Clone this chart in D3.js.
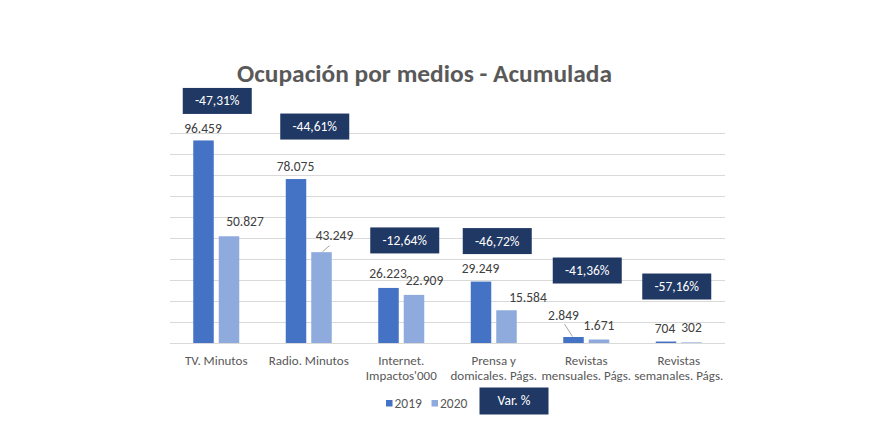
<!DOCTYPE html>
<html>
<head>
<meta charset="utf-8">
<script src="https://cdn.jsdelivr.net/npm/d3@7"></script>
<style>
  html, body { margin: 0; padding: 0; background: #fff; }
  svg { display: block; }
</style>
</head>
<body>
<svg id="chart" width="872" height="444"></svg>
<script>
// ---------- DATA ----------
const categories = [
  ["TV. Minutos"],
  ["Radio. Minutos"],
  ["Internet.", "Impactos'000"],
  ["Prensa y", "domicales. Págs."],
  ["Revistas", "mensuales. Págs."],
  ["Revistas", "semanales. Págs."]
];
const seriesNames = ["2019", "2020"];
const values2019 = [96459, 78075, 26223, 29249, 2849, 704];
const values2020 = [50827, 43249, 22909, 15584, 1671, 302];
const variation = [-47.31, -44.61, -12.64, -46.72, -41.36, -57.16];
const yTicks = [0, 10000, 20000, 30000, 40000, 50000, 60000, 70000, 80000, 90000, 100000];
const titleText = "Ocupación por medios - Acumulada";
const varLegend = "Var. %";

// ---------- LAYOUT (manual label nudges, px) ----------
const labelNudge2019 = [[-0.5, -3], [-0.5, -4.5], [-0.5, -6], [-0.5, -5], [-10, -13], [-1, -5]];
const labelNudge2020 = [[16, -6], [13, -8.5], [10.5, -5.5], [21.5, -4.5], [0, -5], [0, -6]];
const leader2019 = [null, null, null, null, [-9, -13], null];
const leader2020 = [null, [8, -6.5], null, null, null, null];
const boxOffset = [[1, -39.5], [6, -52.5], [3.5, -47.5], [3.5, -40.5], [1, -66.5], [-2, -55]];

const colors = { "2019": "#4472C4", "2020": "#8FAADC" };
const navy = "#203864";
const font = "Carlito, Calibri, Lato, 'Liberation Sans', sans-serif";
const fs = 13.5;
const fsCat = 13;

const svg = d3.select("#chart");
svg.append("rect").attr("width", 872).attr("height", 444).attr("fill", "#fff");

const locale = d3.formatLocale({ decimal: ",", thousands: ".", grouping: [3], currency: ["", "€"], minus: "-" });
const fmtInt = locale.format(",d");
const fmtPct = locale.format(".2f");

const catKeys = categories.map(c => c.join(" "));
const x = d3.scaleBand().domain(catKeys).range([170, 725]).paddingInner(0).paddingOuter(0);
const xSub = d3.scaleBand().domain(seriesNames).range([0, x.bandwidth()])
  .paddingInner(0.196).paddingOuter(0.912);
const y = d3.scaleLinear().domain([0, 100000]).range([343, 133]);

// gridlines via axis
const gridAxis = d3.axisLeft(y).tickValues(yTicks).tickSize(-(725 - 170)).tickFormat("");
const g = svg.append("g").attr("transform", "translate(170,0)").call(gridAxis);
g.select(".domain").remove();
g.selectAll(".tick line").attr("stroke", "#D9D9D9").attr("stroke-width", 1);

// title
svg.append("text")
  .attr("x", 424.5).attr("y", 81.5)
  .attr("text-anchor", "middle")
  .attr("font-family", font).attr("font-weight", "bold")
  .attr("font-size", 24.5).attr("fill", "#595959")
  .attr("textLength", 375).attr("lengthAdjust", "spacingAndGlyphs")
  .text(titleText);

const rows = catKeys.map((k, i) => ({ k, i, v: [values2019[i], values2020[i]] }));

// bars
seriesNames.forEach((s, si) => {
  svg.append("g").selectAll("rect").data(rows).join("rect")
    .attr("x", d => x(d.k) + xSub(s))
    .attr("y", d => y(d.v[si]))
    .attr("width", xSub.bandwidth())
    .attr("height", d => y(0) - y(d.v[si]))
    .attr("fill", colors[s]);
});

// data labels
const nudges = [labelNudge2019, labelNudge2020];
const leaders = [leader2019, leader2020];
seriesNames.forEach((s, si) => {
  const lg = svg.append("g");
  rows.forEach(d => {
    const bx = x(d.k) + xSub(s) + xSub.bandwidth() / 2;
    const by = y(d.v[si]);
    const [dx, dy] = nudges[si][d.i];
    const tx = bx + dx, ty = by + dy - 4;
    const ld = leaders[si][d.i];
    if (ld) {
      lg.append("line")
        .attr("x1", bx + (si === 1 ? 1 : -1)).attr("y1", by - 0.5)
        .attr("x2", bx + ld[0]).attr("y2", by + ld[1])
        .attr("stroke", "#A6A6A6").attr("stroke-width", 1);
    }
    lg.append("text")
      .attr("x", tx).attr("y", ty)
      .attr("text-anchor", "middle")
      .attr("font-family", font).attr("font-size", fs)
      .attr("fill", "#404040")
      .text(fmtInt(d.v[si]));
  });
});

// variation boxes
const bw = 69, bh = 26;
const boxes = svg.append("g");
rows.forEach(d => {
  const cx = x(d.k) + x.bandwidth() / 2 + boxOffset[d.i][0];
  const cy = y(d.v[0]) + boxOffset[d.i][1];
  boxes.append("rect")
    .attr("x", cx - bw / 2).attr("y", cy - bh / 2)
    .attr("width", bw).attr("height", bh).attr("fill", navy);
  boxes.append("text")
    .attr("x", cx).attr("y", cy + 4.5)
    .attr("text-anchor", "middle")
    .attr("font-family", font).attr("font-size", fs).attr("fill", "#fff")
    .text(fmtPct(variation[d.i]) + "%");
});

// category labels
const cl = svg.append("g");
categories.forEach((lines, i) => {
  const t = cl.append("text")
    .attr("text-anchor", "middle")
    .attr("font-family", font).attr("font-size", fsCat).attr("fill", "#595959");
  lines.forEach((ln, li) => {
    t.append("tspan").attr("x", x(catKeys[i]) + x.bandwidth() / 2)
      .attr("y", 364.5 + li * 15.5).text(ln);
  });
});

// legend
const leg = svg.append("g");
const legX = [386, 431.5];
seriesNames.forEach((s, si) => {
  leg.append("rect").attr("x", legX[si]).attr("y", 400).attr("width", 6.5).attr("height", 6.5).attr("fill", colors[s]);
  leg.append("text").attr("x", legX[si] + 8.5).attr("y", 408)
    .attr("font-family", font).attr("font-size", fs).attr("fill", "#595959").text(s);
});
leg.append("rect").attr("x", 479.5).attr("y", 387.5).attr("width", 69).attr("height", 27).attr("fill", navy);
leg.append("text").attr("x", 514).attr("y", 405).attr("text-anchor", "middle")
  .attr("font-family", font).attr("font-size", fs).attr("fill", "#fff").text(varLegend);
</script>
</body>
</html>
